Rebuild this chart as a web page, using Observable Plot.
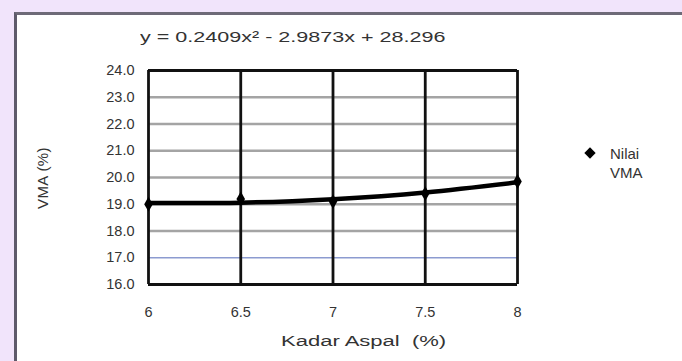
<!DOCTYPE html>
<html>
<head>
<meta charset="utf-8">
<script src="https://cdn.jsdelivr.net/npm/d3@7"></script>
<script src="https://cdn.jsdelivr.net/npm/@observablehq/plot@0.6"></script>
<style>
  html, body { margin: 0; padding: 0; }
  body { width: 682px; height: 361px; background: #f1e4fb; position: relative; overflow: hidden; font-family: "Liberation Sans", Arial, sans-serif; }
  #frame { position: absolute; left: 14px; top: 12px; width: 668px; height: 349px; background: #ffffff; border-top: 3px solid #6e6a78; border-left: 3px solid #5e5a6a; box-sizing: border-box; }
  #chart { position: absolute; left: 0; top: 0; }
  .txt { position: absolute; color: #333; white-space: pre; font-size: 15px; line-height: 1; }
  #eq { left: 140px; top: 29px; font-size: 15.5px; transform-origin: 0 0; transform: scaleX(1.39); }
  #xlabel { left: 281px; top: 333px; font-size: 15.5px; transform-origin: 0 0; transform: scaleX(1.42); }
  #ylabel { left: 42px; top: 178px; transform: translate(-50%, -50%) rotate(-90deg); font-size: 15px; letter-spacing: 0.4px; }
  #legend-mark { position: absolute; left: 586px; top: 149px; width: 8px; height: 8px; background: #000; transform: rotate(45deg); }
  #leg1 { left: 610px; top: 146px; }
  #leg2 { left: 610px; top: 165px; }
</style>
</head>
<body>
<div id="frame"></div>
<div id="chart"></div>
<div class="txt" id="eq">y = 0.2409x² - 2.9873x + 28.296</div>
<div class="txt" id="xlabel">Kadar Aspal  (%)</div>
<div class="txt" id="ylabel">VMA (%)</div>
<div id="legend-mark"></div>
<div class="txt" id="leg1">Nilai</div>
<div class="txt" id="leg2">VMA</div>
<script>
const kadarAspal = [6, 6.5, 7, 7.5, 8];
const vmaValues = [19.0, 19.2, 19.1, 19.4, 19.85];
const trendValues = [19.05, 19.06, 19.19, 19.44, 19.82];
const yTicks = [16, 17, 18, 19, 20, 21, 22, 23, 24];
const xTicks = [6, 6.5, 7, 7.5, 8];
const limitValue = [17];
const frameY = [16, 24];

const points = kadarAspal.map((x, i) => ({x, y: vmaValues[i]}));
const trend = kadarAspal.map((x, i) => ({x, y: trendValues[i]}));
const grid = yTicks.filter(v => v !== 16 && v !== 24 && v !== 17);

const chart = Plot.plot({
  width: 682,
  height: 361,
  marginLeft: 148,
  marginRight: 165,
  marginTop: 70,
  marginBottom: 77,
  style: { background: "transparent", fontFamily: "Liberation Sans, Arial, sans-serif", fontSize: "14.5px", color: "#333" },
  x: { domain: [6, 8], ticks: xTicks, tickSize: 0, tickPadding: 22, tickFormat: d => String(d), label: null },
  y: { domain: [16, 24], ticks: yTicks, tickSize: 0, tickPadding: 14, tickFormat: d3.format(".1f"), label: null },
  marks: [
    Plot.ruleY(grid, { stroke: "#a4a4a4", strokeWidth: 2.5 }),
    Plot.ruleY(limitValue, { stroke: "#8c9bd0", strokeWidth: 1.5 }),
    Plot.ruleX(xTicks, { stroke: "#111", strokeWidth: 2.8 }),
    Plot.ruleY(frameY, { stroke: "#111", strokeWidth: 2.8 }),
    Plot.line(trend, { x: "x", y: "y", curve: "natural", stroke: "#000", strokeWidth: 4.5 }),
    Plot.dot(points, { x: "x", y: "y", symbol: "diamond", r: 4.5, fill: "#000", stroke: "none" })
  ]
});
document.getElementById("chart").appendChild(chart);
</script>
</body>
</html>
